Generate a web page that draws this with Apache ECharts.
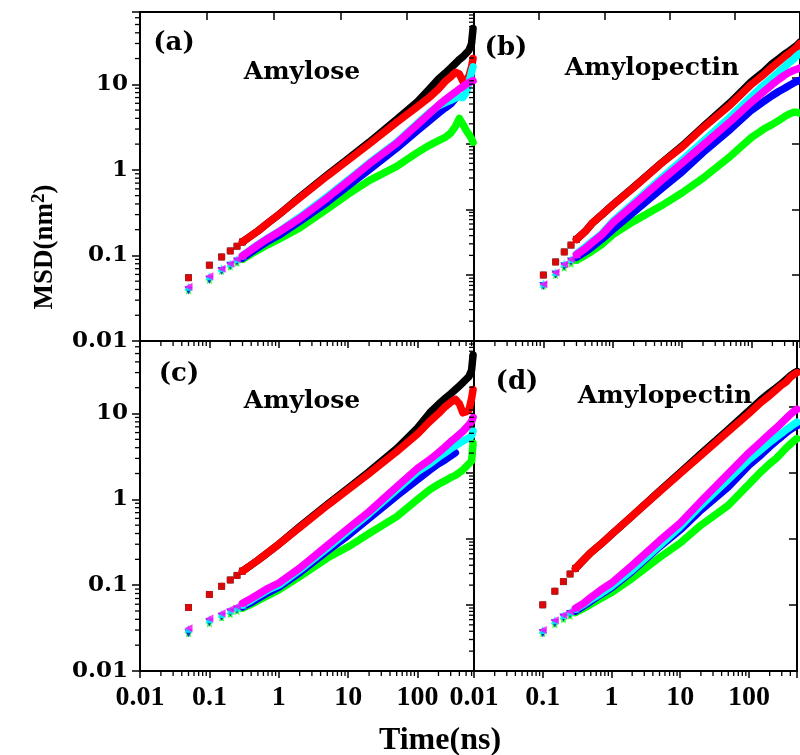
<!DOCTYPE html>
<html>
<head>
<meta charset="utf-8">
<script src="https://cdn.jsdelivr.net/npm/echarts@6/dist/echarts.min.js"></script>
<style>
  html, body { margin: 0; padding: 0; background: #fff; }
  #main { width: 800px; height: 755px; }
</style>
</head>
<body>
<div id="main"></div>
<script>
// ---- time grids (ns) ----
const timeAmylose = [0.05,0.1,0.15,0.2,0.25,0.3,0.4,0.5,0.7,1,2,5,10,20,50,100,150,200,250,300,350,400,450,500,550,600,630];
const timeAmylopectin = [0.1,0.15,0.2,0.25,0.3,0.4,0.5,0.7,1,2,5,10,20,50,100,150,200,250,300,350,400,450,500];

// ---- MSD (nm^2), panel (a) amylose ----
const a_black   = [0.055,0.077,0.096,0.113,0.128,0.144,0.17,0.193,0.24,0.30,0.48,0.87,1.35,2.1,3.9,6.3,8.9,11.5,13.5,15.5,17.5,19.5,21,23,25,30,45];
const a_red     = [0.055,0.077,0.096,0.113,0.128,0.144,0.17,0.192,0.24,0.30,0.47,0.85,1.3,2.0,3.6,5.5,7.1,8.8,10.8,12.2,13.8,13.2,10.8,11,12.5,16,20];
const a_cyan    = [0.043,0.057,0.071,0.081,0.091,0.1,0.118,0.134,0.16,0.19,0.28,0.49,0.76,1.2,2.1,3.5,4.7,5.6,6.1,6.5,6.9,7.2,7.0,8.0,10.5,14,16];
const a_magenta = [0.043,0.057,0.07,0.08,0.09,0.099,0.116,0.132,0.158,0.188,0.27,0.47,0.74,1.17,2.05,3.4,4.6,5.7,6.6,7.4,8.1,8.8,9.4,10,10.5,10.8,11];
const a_blue    = [0.039,0.052,0.066,0.076,0.085,0.093,0.109,0.123,0.147,0.172,0.25,0.42,0.65,1.0,1.8,2.9,3.8,4.6,5.3,5.9,6.8,null,null,null,null,null,null];
const a_green   = [0.039,0.0515,0.066,0.074,0.082,0.09,0.104,0.115,0.134,0.155,0.21,0.35,0.52,0.75,1.1,1.6,1.95,2.2,2.4,2.7,3.2,4.0,3.4,2.9,2.6,2.3,2.1];

// ---- panel (b) amylopectin ----
const b_black   = [0.059,0.084,0.11,0.132,0.154,0.19,0.236,0.3,0.39,0.63,1.2,1.9,3.2,6.2,10.8,14,17.5,20,22.5,24.5,26.5,28.5,31];
const b_red     = [0.059,0.084,0.11,0.132,0.154,0.19,0.236,0.3,0.387,0.62,1.19,1.85,3.1,5.8,10,13,16,18.5,21,23,25,27,30];
const b_cyan    = [0.047,0.064,0.081,0.091,0.104,0.125,0.145,0.18,0.25,0.41,0.8,1.3,2.15,4.2,7.2,9.8,12,14,16,18,19.5,21.5,23];
const b_magenta = [0.046,0.063,0.079,0.09,0.102,0.12,0.14,0.175,0.24,0.39,0.75,1.2,1.95,3.7,6.2,8.2,10,11.5,12.8,13.8,14.5,15,15.5];
const b_blue    = [0.044,0.06,0.075,0.085,0.095,0.11,0.125,0.155,0.2,0.32,0.6,0.95,1.6,3.0,5.0,6.3,7.4,8.3,9.0,9.7,10.3,10.8,11.2];
const b_green   = [0.044,0.059,0.072,0.08,0.088,0.1,0.112,0.135,0.175,0.25,0.38,0.54,0.8,1.45,2.4,3.0,3.4,3.8,4.2,4.5,4.7,4.7,4.6];

// ---- panel (c) amylose ----
const c_black   = [0.055,0.078,0.097,0.115,0.13,0.146,0.172,0.195,0.24,0.30,0.48,0.87,1.35,2.1,3.9,6.8,10.2,12.8,15,17,19,21,23,25,27,32,48];
const c_red     = [0.055,0.078,0.097,0.115,0.13,0.146,0.172,0.195,0.24,0.30,0.47,0.85,1.3,2.0,3.6,5.8,8.1,10,12,13.5,14.6,13,10.2,10.5,11,15,19];
const c_cyan    = [0.031,0.04,0.046,0.051,0.055,0.059,0.067,0.075,0.088,0.1,0.15,0.27,0.43,0.68,1.3,2.1,2.6,3.1,3.5,3.9,4.2,4.5,4.8,5.0,5.2,5.5,6.3];
const c_magenta = [0.0315,0.041,0.047,0.0525,0.057,0.0617,0.07,0.078,0.092,0.106,0.158,0.29,0.46,0.72,1.4,2.3,2.9,3.5,4.1,4.7,5.2,5.7,6.2,6.8,7.4,8.1,9.0];
const c_blue    = [0.0275,0.037,0.043,0.048,0.052,0.056,0.063,0.07,0.082,0.095,0.14,0.25,0.38,0.6,1.1,1.7,2.2,2.6,2.9,3.2,3.5,null,null,null,null,null,null];
const c_green   = [0.0275,0.036,0.042,0.046,0.05,0.054,0.06,0.066,0.076,0.088,0.126,0.207,0.28,0.4,0.63,1.0,1.3,1.5,1.65,1.8,1.9,2.05,2.2,2.4,2.6,2.8,4.5];

// ---- panel (d) amylopectin ----
const d_black   = [0.059,0.085,0.11,0.135,0.157,0.2,0.24,0.3,0.39,0.64,1.25,2.05,3.4,6.5,10.8,14.5,17.5,20,22.5,25,27.5,29.5,31];
const d_red     = [0.059,0.085,0.11,0.135,0.157,0.2,0.24,0.3,0.39,0.64,1.23,2.0,3.24,6.2,10,13.5,16.2,19,21.5,23.5,26.5,28.5,30];
const d_cyan    = [0.03,0.039,0.045,0.049,0.053,0.06,0.068,0.08,0.097,0.15,0.29,0.48,0.85,1.7,2.9,3.8,4.6,5.3,5.9,6.5,7.0,7.5,7.9];
const d_magenta = [0.030,0.039,0.045,0.0495,0.054,0.062,0.072,0.088,0.106,0.17,0.33,0.53,0.95,2.0,3.5,4.7,5.8,6.8,7.8,8.8,9.8,10.6,11.2];
const d_blue    = [0.0275,0.036,0.042,0.046,0.05,0.058,0.065,0.078,0.093,0.145,0.28,0.44,0.75,1.4,2.5,3.3,4.1,4.8,5.4,6.0,6.5,6.9,7.2];
const d_green   = [0.0275,0.035,0.04,0.044,0.048,0.054,0.06,0.07,0.082,0.12,0.21,0.31,0.5,0.85,1.5,2.1,2.6,3.0,3.5,4.0,4.4,4.8,5.1];

// ---- tick labels and panel text ----
const xTickLabels = ['0.01','0.1','1','10','100'];
const yTickLabels = ['0.01','0.1','1','10'];
const panelTags   = ['(a)','(b)','(c)','(d)'];
const panelNames  = ['Amylose','Amylopectin','Amylose','Amylopectin'];
const xTitle = 'Time(ns)';

// ---- layout ----
const grids = [
  { left: 140, top: 12,  width: 334, height: 329 },
  { left: 474, top: 12,  width: 328, height: 329 },
  { left: 140, top: 341, width: 334, height: 330 },
  { left: 474, top: 341, width: 328, height: 330 }
];
const xMaxes = [650, 500, 650, 500];
const Y_MIN = 0.01, Y_MAX = 70;
const X_MIN = 0.01;

const STAR = 'path://M0,-10L2.9,-4L9.5,-3.1L4.8,1.5L5.9,8.1L0,5L-5.9,8.1L-4.8,1.5L-9.5,-3.1L-2.9,-4Z';
const styles = {
  black:   { color: '#000000', symbol: 'rect',      rotate: 0,   size: 7 },
  red:     { color: '#ff0000', symbol: 'roundRect', rotate: 0,   size: 7 },
  green:   { color: '#00ff00', symbol: STAR,        rotate: 0,   size: 8 },
  blue:    { color: '#0000ff', symbol: 'triangle',  rotate: 180, size: 8 },
  cyan:    { color: '#00ffff', symbol: 'triangle',  rotate: 0,   size: 8 },
  magenta: { color: '#ff00ff', symbol: 'triangle',  rotate: 90,  size: 8 }
};
const panels = [
  { time: timeAmylose,     markers: 6, sets: { black: a_black, red: a_red, green: a_green, blue: a_blue, cyan: a_cyan, magenta: a_magenta } },
  { time: timeAmylopectin, markers: 5, sets: { black: b_black, red: b_red, green: b_green, blue: b_blue, cyan: b_cyan, magenta: b_magenta } },
  { time: timeAmylose,     markers: 6, sets: { black: c_black, red: c_red, green: c_green, blue: c_blue, cyan: c_cyan, magenta: c_magenta } },
  { time: timeAmylopectin, markers: 5, sets: { black: d_black, red: d_red, green: d_green, blue: d_blue, cyan: d_cyan, magenta: d_magenta } }
];
const drawOrder = ['black','red','green','blue','cyan','magenta'];

function isDecade(v) {
  const e = Math.log10(v);
  return Math.abs(e - Math.round(e)) < 1e-6;
}
function decadeLabel(list, v) {
  if (!isDecade(v)) return '';
  const idx = Math.round(Math.log10(v)) + 2;
  return list[idx] || '';
}
function minorValues(lo, hi) {
  const out = [];
  for (let e = Math.floor(Math.log10(lo)); e <= Math.ceil(Math.log10(hi)); e++) {
    for (let k = 2; k <= 9; k++) {
      const v = k * Math.pow(10, e);
      if (v > lo * 1.0001 && v < hi * 0.9999) out.push(v);
    }
  }
  return out;
}

const axisLine = { show: true, onZero: false, lineStyle: { color: '#000', width: 2 } };
const xAxes = [], yAxes = [], series = [];

grids.forEach((g, i) => {
  const leftCol = (i % 2 === 0);
  const bottomRow = (i >= 2);
  const xMax = xMaxes[i];
  // bottom (data) x axis
  xAxes.push({
    type: 'log', logBase: 10, gridIndex: i, position: 'bottom', min: X_MIN, max: xMax,
    axisLine, splitLine: { show: false },
    axisTick: { show: true, inside: false, length: 7, lineStyle: { color: '#000', width: 1.5 } },
    axisLabel: {
      show: bottomRow, margin: 13, color: '#000', fontFamily: 'Liberation Serif', fontWeight: 'bold', fontSize: 28,
      showMinLabel: true, showMaxLabel: true, hideOverlap: false,
      formatter: v => decadeLabel(xTickLabels, v)
    }
  });
  // top frame axis
  xAxes.push({
    type: 'log', logBase: 10, gridIndex: i, position: 'top', min: 0.01, max: 1000,
    axisLine, splitLine: { show: false },
    axisTick: { show: !bottomRow, inside: true, length: 8, lineStyle: { color: '#000', width: 1.5 } },
    axisLabel: { show: false }
  });
  // left (data) y axis
  yAxes.push({
    type: 'log', logBase: 10, gridIndex: i, position: 'left', min: Y_MIN, max: Y_MAX,
    axisLine, splitLine: { show: false },
    axisTick: { show: leftCol, inside: false, length: 8, lineStyle: { color: '#000', width: 1.5 } },
    axisLabel: {
      show: leftCol, margin: 12, color: '#000', fontFamily: 'DejaVu Serif', fontWeight: 'bold', fontSize: 23,
      showMinLabel: true, showMaxLabel: true, hideOverlap: false,
      formatter: v => decadeLabel(yTickLabels, v)
    }
  });
  // right frame axis
  yAxes.push({
    type: 'log', logBase: 10, gridIndex: i, position: 'right', min: 0.001, max: 100,
    axisLine, splitLine: { show: false },
    axisTick: { show: true, inside: true, length: 8, lineStyle: { color: '#000', width: 1.5 } },
    axisLabel: { show: false }
  });

  // data: isolated early markers, then a dense band drawn as a thick line
  const p = panels[i];
  drawOrder.forEach((key, k) => {
    const st = styles[key];
    const vals = p.sets[key];
    const pts = p.time.map((t, j) => [t, vals[j]]);
    series.push({
      type: 'scatter', name: key, xAxisIndex: 2 * i, yAxisIndex: 2 * i,
      data: pts.slice(0, p.markers),
      symbol: st.symbol, symbolSize: st.size, symbolRotate: st.rotate,
      itemStyle: { color: st.color }, silent: true, z: 2 + k
    });
    series.push({
      type: 'line', name: key, xAxisIndex: 2 * i, yAxisIndex: 2 * i,
      data: pts.slice(p.markers - 1).filter(q => q[1] != null),
      showSymbol: false, smooth: false,
      lineStyle: { color: st.color, width: 7.5, join: 'round', cap: 'round' },
      itemStyle: { color: st.color }, silent: true, z: 2 + k
    });
  });

  // minor log ticks on the data axes
  const minorData = [];
  if (leftCol) minorValues(Y_MIN, Y_MAX).forEach(v => minorData.push([X_MIN, v, 0]));
  minorValues(X_MIN, xMax).forEach(v => minorData.push([v, Y_MIN, 1]));
  series.push({
    type: 'custom', xAxisIndex: 2 * i, yAxisIndex: 2 * i, clip: false, silent: true, z: 10,
    dimensions: ['x', 'y', 'k'], encode: { x: 'x', y: 'y' },
    data: minorData,
    renderItem: (params, api) => {
      const c = api.coord([api.value(0), api.value(1)]);
      const k = api.value(2);
      const shape = k === 0
        ? { x1: c[0] - 5, y1: c[1], x2: c[0], y2: c[1] }
        : { x1: c[0], y1: c[1], x2: c[0], y2: c[1] + 5 };
      return { type: 'line', shape, style: { stroke: '#000', lineWidth: 1.3 } };
    }
  });
  // minor ticks on the right frame axis
  if (leftCol) {
    series.push({
      type: 'custom', xAxisIndex: 2 * i + 1, yAxisIndex: 2 * i + 1, clip: false, silent: true, z: 10,
      dimensions: ['x', 'y'], encode: { x: 'x', y: 'y' },
      data: minorValues(0.001, 100).map(v => [1000, v]),
      renderItem: (params, api) => {
        const c = api.coord([api.value(0), api.value(1)]);
        return { type: 'line', shape: { x1: c[0] - 5, y1: c[1], x2: c[0], y2: c[1] }, style: { stroke: '#000', lineWidth: 1.3 } };
      }
    });
  }
});

// ---- text annotations ----
const tagPos  = [[174, 43], [506, 48], [179, 374], [517, 382]];
const namePos = [[302, 72], [652, 68], [302, 401], [665, 396]];
const graphics = [];
panelTags.forEach((t, i) => {
  graphics.push({ type: 'text', x: tagPos[i][0], y: tagPos[i][1], z: 100,
    style: { text: t, fill: '#000', fontFamily: 'DejaVu Serif', fontWeight: 'bold', fontSize: 26, align: 'center', verticalAlign: 'middle' } });
  graphics.push({ type: 'text', x: namePos[i][0], y: namePos[i][1], z: 100,
    style: { text: panelNames[i], fill: '#000', fontFamily: 'DejaVu Serif', fontWeight: 'bold', fontSize: 25, align: 'center', verticalAlign: 'middle' } });
});
graphics.push({ type: 'text', x: 440, y: 741, z: 100,
  style: { text: xTitle, fill: '#000', fontFamily: 'Liberation Serif', fontWeight: 'bold', fontSize: 32, align: 'center', verticalAlign: 'middle' } });
graphics.push({ type: 'text', x: 45, y: 247, rotation: Math.PI / 2, z: 100,
  style: {
    text: 'MSD(nm{s|2})', fill: '#000', fontFamily: 'Liberation Serif', fontWeight: 'bold', fontSize: 27,
    align: 'center', verticalAlign: 'middle',
    rich: { s: { fontFamily: 'Liberation Serif', fontWeight: 'bold', fontSize: 19, verticalAlign: 'top', lineHeight: 31, fill: '#000' } }
  } });

const chart = echarts.init(document.getElementById('main'), null, { renderer: 'canvas' });
chart.setOption({
  animation: false,
  backgroundColor: '#fff',
  grid: grids.map(g => Object.assign({ containLabel: false }, g)),
  xAxis: xAxes,
  yAxis: yAxes,
  series,
  graphic: graphics
});
</script>
</body>
</html>
